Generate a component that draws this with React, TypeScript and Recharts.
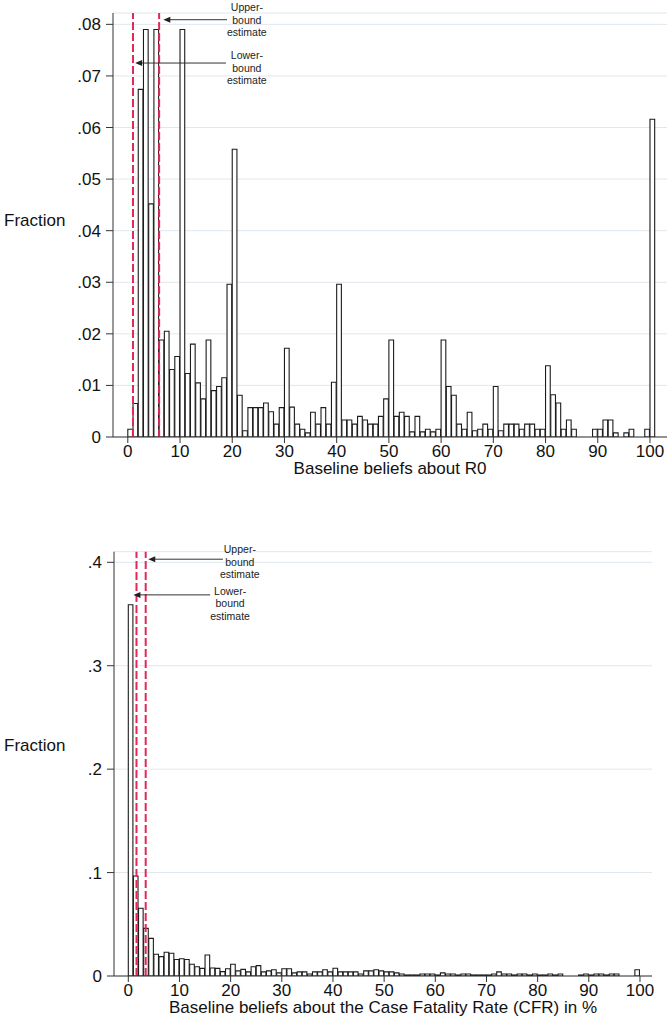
import { ComposedChart, Bar, XAxis, YAxis, CartesianGrid, ReferenceLine } from "recharts";

const FONT = "'Liberation Sans', Arial, Helvetica, sans-serif";

// fraction of answers per 1-unit bin, index = lower edge of the bin
const R0_FRACTION = [
  0.0015, 0.0065, 0.0674, 0.079, 0.0452, 0.079, 0.0188, 0.0205, 0.0131, 0.0156,
  0.079, 0.0123, 0.018, 0.0105, 0.0074, 0.0188, 0.009, 0.0098, 0.0115, 0.0296,
  0.0558, 0.0081, 0.0012, 0.0057, 0.0057, 0.0057, 0.0066, 0.0049, 0.0025, 0.0057,
  0.0172, 0.0058, 0.0025, 0.0015, 0.0008, 0.0048, 0.0025, 0.0057, 0.0025, 0.0106,
  0.0296, 0.0033, 0.0033, 0.0025, 0.004, 0.0033, 0.0025, 0.0025, 0.004, 0.0074,
  0.0188, 0.004, 0.0048, 0.004, 0.001, 0.004, 0.001, 0.0015, 0.001, 0.0015,
  0.0188, 0.0098, 0.0081, 0.0025, 0.0015, 0.0048, 0.0012, 0.0015, 0.0025, 0.0015,
  0.0098, 0.0012, 0.0025, 0.0025, 0.0025, 0.0015, 0.0025, 0.0025, 0.0015, 0.0015,
  0.0138, 0.0082, 0.0066, 0.0015, 0.0033, 0.0015, 0, 0, 0, 0.0015,
  0.0015, 0.0033, 0.0033, 0.0008, 0, 0.0008, 0.0015, 0, 0, 0.0015,
  0.0616,
];

const CFR_FRACTION = [
  0.359, 0.0967, 0.0655, 0.046, 0.0364, 0.021, 0.0187, 0.0229, 0.022, 0.016,
  0.0167, 0.016, 0.0113, 0.009, 0.0074, 0.0203, 0.0078, 0.0074, 0.0042, 0.007,
  0.0113, 0.005, 0.0064, 0.004, 0.009, 0.01, 0.004, 0.005, 0.006, 0.003,
  0.007, 0.007, 0.003, 0.004, 0.004, 0.002, 0.004, 0.004, 0.006, 0.004,
  0.0075, 0.004, 0.004, 0.004, 0.004, 0.002, 0.005, 0.005, 0.006, 0.005,
  0.004, 0.004, 0.003, 0.002, 0.001, 0.001, 0.001, 0.002, 0.002, 0.002,
  0.001, 0.003, 0.002, 0.002, 0.001, 0.002, 0.002, 0.001, 0.001, 0.001,
  0.001, 0.002, 0.004, 0.002, 0.002, 0.001, 0.002, 0.002, 0.001, 0.002,
  0.001, 0.001, 0.002, 0.001, 0.002, 0, 0, 0, 0.001, 0.002,
  0.001, 0.002, 0.002, 0.001, 0.002, 0.002, 0, 0, 0, 0.006,
];

const X_TICKS = [0, 10, 20, 30, 40, 50, 60, 70, 80, 90, 100];
const R0_Y_TICKS = [0, 0.01, 0.02, 0.03, 0.04, 0.05, 0.06, 0.07, 0.08];
const CFR_Y_TICKS = [0, 0.1, 0.2, 0.3, 0.4];

// lower / upper bound estimates (dashed lines)
const R0_BOUNDS = [1, 6];
const CFR_BOUNDS = [1.6, 3.4];

const UPPER_LABEL = ["Upper-", "bound", "estimate"];
const LOWER_LABEL = ["Lower-", "bound", "estimate"];

const W = 672;
const Y_AXIS_W = 60;
const X_AXIS_H = 25;

const fmtY = (v: number) => (v === 0 ? "0" : String(v).replace(/^0\./, "."));

type Note = { lines: string[]; tip: number; tail: number; y: number; textX: number; dy: number };

type Props = {
  values: number[];
  yTicks: number[];
  yMax: number;
  xDomain: [number, number];
  bounds: number[];
  title: string;
  height: number;
  margin: { top: number; right: number; bottom: number; left: number };
  notes: Note[];
  fractionY: number;
};

function Histogram({ values, yTicks, yMax, xDomain, bounds, title, height, margin, notes, fractionY }: Props) {
  const plotL = margin.left + Y_AXIS_W;
  const plotR = W - margin.right;
  const plotT = margin.top;
  const plotB = height - margin.bottom - X_AXIS_H;
  const unit = (plotR - plotL) / (xDomain[1] - xDomain[0]);
  const sx = (v: number) => plotL + (v - xDomain[0]) * unit;
  const sy = (v: number) => plotB - (v / yMax) * (plotB - plotT);
  const data = values.map((f, i) => ({ mid: i + 0.5, frac: f }));

  return (
    <div style={{ position: "relative", width: W, height }}>
      <ComposedChart width={W} height={height} data={data} margin={margin} barCategoryGap={0} barGap={0}>
        <CartesianGrid vertical={false} stroke="#dfe8ee" />
        <XAxis
          type="number"
          dataKey="mid"
          domain={xDomain}
          ticks={X_TICKS}
          allowDataOverflow
          height={X_AXIS_H}
          stroke="#333"
          tickSize={6}
          tickMargin={2}
          tick={{ fill: "#111", fontSize: 17, fontFamily: FONT }}
          label={{ value: title, position: "bottom", offset: 0, fill: "#111", fontSize: 17, fontFamily: FONT }}
        />
        <YAxis
          type="number"
          domain={[0, yMax]}
          ticks={yTicks}
          allowDataOverflow
          width={Y_AXIS_W}
          stroke="#333"
          tickSize={7}
          tickMargin={5}
          tickFormatter={fmtY}
          tick={{ fill: "#111", fontSize: 17, fontFamily: FONT }}
        />
        <Bar dataKey="frac" fill="#fff" stroke="#1c1c1c" strokeWidth={1.1} barSize={unit} isAnimationActive={false} />
        {bounds.map((b) => (
          <ReferenceLine key={b} x={b} stroke="#e2275a" strokeWidth={2} strokeDasharray="8 3" />
        ))}
      </ComposedChart>
      <svg
        width={W}
        height={height}
        style={{ position: "absolute", left: 0, top: 0, pointerEvents: "none", overflow: "visible" }}
      >
        <text x={4} y={fractionY} dominantBaseline="central" fontSize={17} fontFamily={FONT} fill="#111">
          Fraction
        </text>
        {notes.map((n, i) => {
          const ay = sy(n.y);
          const tx = sx(n.tip);
          return (
            <g key={i}>
              <line x1={tx + 6} y1={ay} x2={sx(n.tail)} y2={ay} stroke="#333" strokeWidth={1} />
              <polygon points={`${tx},${ay} ${tx + 7},${ay - 3} ${tx + 7},${ay + 3}`} fill="#222" />
              {n.lines.map((s, j) => (
                <text
                  key={s}
                  x={sx(n.textX)}
                  y={ay + n.dy + j * 12.5}
                  textAnchor="middle"
                  dominantBaseline="central"
                  fontSize={10.5}
                  fontFamily={FONT}
                  fill="#222"
                >
                  {s}
                </text>
              ))}
            </g>
          );
        })}
      </svg>
    </div>
  );
}

export default function App() {
  return (
    <div style={{ position: "absolute", left: 0, top: 0, width: W, height: 1027, background: "#fff" }}>
      <Histogram
        values={R0_FRACTION}
        yTicks={R0_Y_TICKS}
        yMax={0.0822}
        xDomain={[-2.835, 103.26]}
        bounds={R0_BOUNDS}
        title="Baseline beliefs about R0"
        height={500}
        margin={{ top: 13, right: 5, bottom: 38, left: 53 }}
        fractionY={220}
        notes={[
          { lines: UPPER_LABEL, tip: 6.8, tail: 19, y: 0.0809, textX: 22.8, dy: -12.7 },
          { lines: LOWER_LABEL, tip: 1.4, tail: 18.8, y: 0.0725, textX: 22.8, dy: -7.6 },
        ]}
      />
      <div style={{ position: "absolute", left: 0, top: 520 }}>
        <Histogram
          values={CFR_FRACTION}
          yTicks={CFR_Y_TICKS}
          yMax={0.41025}
          xDomain={[-2.795, 102.35]}
          bounds={CFR_BOUNDS}
          title="Baseline beliefs about the Case Fatality Rate (CFR) in %"
          height={507}
          margin={{ top: 31.7, right: 20, bottom: 26, left: 54 }}
          fractionY={225}
          notes={[
            { lines: UPPER_LABEL, tip: 3.9, tail: 18.5, y: 0.403, textX: 21.8, dy: -10 },
            { lines: LOWER_LABEL, tip: 1.0, tail: 16, y: 0.3685, textX: 19.9, dy: -4 },
          ]}
        />
      </div>
    </div>
  );
}
